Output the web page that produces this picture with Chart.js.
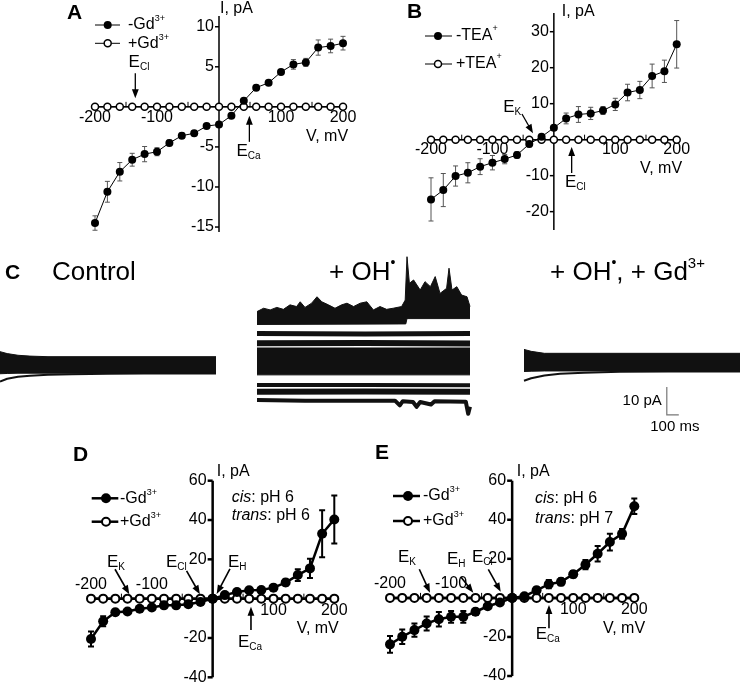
<!DOCTYPE html>
<html>
<head>
<meta charset="utf-8">
<script src="https://cdn.jsdelivr.net/npm/chart.js@4.4.0/dist/chart.umd.min.js"></script>
<style>
  html, body { margin: 0; padding: 0; background: #fff; }
  #wrap { position: relative; width: 740px; height: 685px; overflow: hidden; }
  canvas { position: absolute; }
</style>
</head>
<body>
<div id="wrap">
  <canvas id="panelA" width="370" height="240" style="left:0;top:0"></canvas>
  <canvas id="panelB" width="370" height="240" style="left:370px;top:0"></canvas>
  <canvas id="traceControl" width="740" height="200" style="left:0;top:240px"></canvas>
  <canvas id="traceOH" width="740" height="200" style="left:0;top:240px"></canvas>
  <canvas id="traceOHGd" width="740" height="200" style="left:0;top:240px"></canvas>
  <canvas id="panelD" width="370" height="245" style="left:0;top:440px"></canvas>
  <canvas id="panelE" width="370" height="245" style="left:370px;top:440px"></canvas>
</div>
<script>
// holding potentials, mV
var voltages = [-200, -180, -160, -140, -120, -100, -80, -60, -40, -20, 0, 20, 40, 60, 80, 100, 120, 140, 160, 180, 200];

// A: -Gd3+ / +Gd3+ (pA)
var aNoGd = [-14.5, -10.6, -8.1, -6.6, -5.9, -5.6, -4.5, -3.6, -3.3, -2.4, -2.2, -1.1, 0.75, 2.4, 3.0, 4.35, 5.3, 5.55, 7.4, 7.6, 7.95];
var aNoGdErr = [0.9, 1.3, 1.15, 0.8, 0.95, 0.5, 0.35, 0.35, 0.3, 0.25, 0.25, 0.25, 0.3, 0.3, 0.3, 0.3, 0.6, 0.5, 0.95, 0.85, 0.85];
var aGd = [0, 0, 0, 0, 0, 0, 0, 0, 0, 0, 0, 0, 0, 0, 0, 0, 0, 0, 0, 0, 0];
var aYTicks = [10, 5, -5, -10, -15];

// B: -TEA+ / +TEA+ (pA)
var bNoTea = [-16.6, -14.0, -10.1, -9.2, -7.5, -6.4, -5.4, -4.25, -1.2, 0.8, 3.3, 5.9, 7.0, 7.3, 8.1, 9.8, 13.1, 13.8, 17.7, 19.0, 26.5];
var bNoTeaErr = [6.0, 4.6, 2.8, 2.8, 2.2, 2.0, 1.3, 0.9, 0.8, 0.5, 0.6, 1.5, 2.2, 1.7, 1.1, 1.7, 2.3, 2.4, 3.3, 3.1, 6.6];
var bTea = [0, 0, 0, 0, 0, 0, 0, 0, 0, 0, 0, 0, 0, 0, 0, 0, 0, 0, 0, 0, 0];
var bYTicks = [30, 20, 10, -10, -20];

// D: cis pH 6 / trans pH 6
var dNoGd = [-20.5, -11.5, -6.9, -6.5, -5.1, -4.5, -3.4, -3.4, -2.8, -1.7, 0, 1.8, 3.4, 4.3, 4.4, 5.6, 8.2, 12.0, 15.4, 33.0, 40.3];
var dNoGdErr = [3.8, 2.5, 1.2, 1.0, 1.0, 0.8, 0.8, 0.8, 0.8, 0.6, 0.5, 0.6, 0.8, 0.8, 0.8, 1.0, 1.5, 3.0, 4.9, 12.0, 12.2];
var dGd = [0, 0, 0, 0, 0, 0, 0, 0, 0, 0, 0, 0, 0, 0, 0, 0, 0, 0, 0, 0, 0];

// E: cis pH 6 / trans pH 7
var eNoGd = [-23.8, -19.9, -16.5, -13.1, -10.9, -9.7, -9.7, -7.1, -4.3, -2.4, 0, 0.85, 3.9, 7.0, 8.2, 12.1, 17.0, 22.6, 28.6, 32.8, 46.9];
var eNoGdErr = [4.3, 3.7, 3.4, 3.6, 3.7, 3.0, 3.0, 1.5, 1.2, 1.0, 0.5, 0.8, 1.5, 2.1, 1.7, 1.7, 2.4, 4.0, 4.3, 2.5, 4.0];
var eGd = [0, 0, 0, 0, 0, 0, 0, 0, 0, 0, 0, 0, 0, 0, 0, 0, 0, 0, 0, 0, 0];
var deYTicks = [60, 40, 20, -20, -40];

var xTickLabels = [-200, -100, 100, 200];
var xMinorTicks = [-150, -50, 50, 150];

// C: current traces (time ms, current pA)
var ctrlTime = [0, 60, 150, 250, 400, 600, 900, 1200, 1500, 1800];
var ctrlTop = [3.7, 3.0, 2.4, 2.1, 1.9, 1.9, 1.9, 1.9, 1.9, 1.9];
var ctrlBottom = [-4.2, -4.1, -4.0, -4.0, -4.0, -4.0, -4.0, -4.0, -4.0, -4.0];
var ctrlLowest = [-7.0, -6.0, -5.3, -4.9, -4.6, -4.4, -4.2, -4.1, -4.1, -4.1];

var ohTime = [0, 55, 110, 165, 220, 275, 330, 360, 400, 455, 500, 540, 595, 650, 705, 750, 805, 860, 915, 970, 1025, 1080, 1135, 1205, 1235, 1250, 1270, 1305, 1360, 1400, 1445, 1485, 1525, 1580, 1600, 1625, 1665, 1705, 1750, 1775];
var ohTop = [18.0, 19.2, 18.6, 19.5, 18.8, 20.4, 19.8, 21.5, 19.5, 21.0, 23.3, 21.5, 20.4, 19.2, 20.4, 21.0, 19.8, 21.0, 21.5, 18.6, 19.8, 18.8, 19.2, 19.8, 22.1, 37.6, 28.1, 29.3, 25.7, 28.7, 26.9, 30.5, 24.5, 26.3, 33.5, 25.7, 26.9, 23.9, 23.3, 19.8];
var ohTopBaseTime = [0, 1240, 1250, 1775];
var ohTopBase = [13.4, 13.6, 15.5, 15.5];
var ohFlatTime = [0, 900, 1775];
var ohLine1 = [10.2, 10.0, 10.2];
var ohLine2 = [6.7, 6.8, 6.6];
var ohDenseTop = [5.0, 5.0, 5.0];
var ohDenseBottom = [-4.6, -4.6, -4.6];
var ohLine3 = [-8.2, -8.2, -8.3];
var ohLine4 = [-10.6, -10.5, -10.6];
var ohLine5Time = [0, 400, 1150, 1190, 1215, 1300, 1330, 1360, 1450, 1480, 1740, 1760, 1775];
var ohLine5 = [-13.6, -13.8, -13.8, -15.5, -14.0, -14.3, -16.0, -14.3, -15.2, -14.0, -14.2, -18.5, -16.0];

var gdTime = [0, 60, 170, 300, 500, 800, 1200, 1800];
var gdTop = [4.5, 3.8, 3.1, 3.1, 3.1, 3.1, 3.1, 3.1];
var gdBottom = [-3.4, -3.3, -3.2, -3.2, -3.2, -3.2, -3.2, -3.2];
var gdLowest = [-6.7, -5.8, -4.8, -4.2, -3.8, -3.5, -3.4, -3.4];

var FONT = '"Liberation Sans", Arial, Helvetica, sans-serif';
function font(size, style) { return (style || '') + ' ' + size + 'px ' + FONT; }

// parts: [text, size, dy, style]
function richText(ctx, parts, x, y, align) {
    ctx.textBaseline = 'middle';
    ctx.textAlign = 'left';
    var w = 0;
    parts.forEach(function (p) { ctx.font = font(p[1], p[3]); w += ctx.measureText(p[0]).width; });
    var cx = align === 'right' ? x - w : (align === 'center' ? x - w / 2 : x);
    parts.forEach(function (p) {
        ctx.font = font(p[1], p[3]);
        ctx.fillText(p[0], cx, y + (p[2] || 0));
        cx += ctx.measureText(p[0]).width;
    });
}

function arrow(ctx, x1, y1, x2, y2, lw, head) {
    var a = Math.atan2(y2 - y1, x2 - x1), c = Math.cos(a), s = Math.sin(a);
    ctx.lineWidth = lw;
    ctx.beginPath();
    ctx.moveTo(x1, y1);
    ctx.lineTo(x2 - c * head * 0.8, y2 - s * head * 0.8);
    ctx.stroke();
    ctx.beginPath();
    ctx.moveTo(x2, y2);
    ctx.lineTo(x2 - head * c + head * 0.38 * s, y2 - head * s - head * 0.38 * c);
    ctx.lineTo(x2 - head * c - head * 0.38 * s, y2 - head * s + head * 0.38 * c);
    ctx.closePath();
    ctx.fill();
}

function ivDeco(p, st) {
    return {
        id: 'ivDeco',
        beforeDatasetsDraw: function (chart) {
            var ctx = chart.ctx, xs = chart.scales.x, ys = chart.scales.y, area = chart.chartArea;
            var x0 = xs.getPixelForValue(0), y0 = ys.getPixelForValue(0);
            ctx.save();
            ctx.strokeStyle = '#000';
            ctx.fillStyle = '#000';
            ctx.lineWidth = st.axis;
            ctx.beginPath();
            ctx.moveTo(x0, area.top); ctx.lineTo(x0, area.bottom);
            ctx.moveTo(area.left, y0); ctx.lineTo(area.right, y0);
            ctx.stroke();

            p.yTicks.forEach(function (v) {
                var y = ys.getPixelForValue(v);
                ctx.beginPath(); ctx.moveTo(x0 - st.tick, y); ctx.lineTo(x0, y); ctx.stroke();
                richText(ctx, [[String(v), 16]], x0 - st.tick - 1, y, 'right');
            });
            ctx.lineWidth = 1;
            xMinorTicks.forEach(function (v) {
                var x = xs.getPixelForValue(v);
                ctx.beginPath(); ctx.moveTo(x, y0 - 5); ctx.lineTo(x, y0); ctx.stroke();
            });
            xTickLabels.forEach(function (v) {
                var dy = v < 0 ? p.xLabelDy[0] : p.xLabelDy[1];
                richText(ctx, [[String(v), 16]], xs.getPixelForValue(v), y0 + dy, 'center');
            });

            // error bars
            ctx.strokeStyle = st.errColor;
            ctx.lineWidth = st.errWidth;
            voltages.forEach(function (v, i) {
                var x = xs.getPixelForValue(v);
                var yt = ys.getPixelForValue(p.minus[i] + p.err[i]);
                var yb = ys.getPixelForValue(p.minus[i] - p.err[i]);
                ctx.beginPath();
                ctx.moveTo(x, yt); ctx.lineTo(x, yb);
                ctx.moveTo(x - st.cap, yt); ctx.lineTo(x + st.cap, yt);
                ctx.moveTo(x - st.cap, yb); ctx.lineTo(x + st.cap, yb);
                ctx.stroke();
            });
            ctx.restore();
        },
        afterDatasetsDraw: function (chart) {
            var ctx = chart.ctx, xs = chart.scales.x, ys = chart.scales.y;
            var y0 = ys.getPixelForValue(0);
            ctx.save();
            ctx.fillStyle = '#000';
            ctx.strokeStyle = '#000';

            richText(ctx, [[p.letter[0], 21, 0, 'bold']], p.letter[1], p.letter[2]);

            // legend
            var lg = p.legend;
            lg.rows.forEach(function (ry, k) {
                ctx.lineWidth = st.lw;
                ctx.beginPath(); ctx.moveTo(lg.x1, ry); ctx.lineTo(lg.x2, ry); ctx.stroke();
                ctx.beginPath();
                if (k === 0) {
                    ctx.arc(lg.mx, ry, st.r, 0, Math.PI * 2); ctx.fill();
                } else {
                    ctx.arc(lg.mx, ry, st.ro, 0, Math.PI * 2);
                    ctx.fillStyle = '#fff'; ctx.fill();
                    ctx.lineWidth = st.bw; ctx.stroke();
                    ctx.fillStyle = '#000';
                }
                richText(ctx, lg.labels[k], lg.tx, ry);
            });

            p.texts.forEach(function (t) { richText(ctx, t[0], t[1], t[2]); });

            // reversal potential arrows
            p.arrows.forEach(function (a) {
                var tx = xs.getPixelForValue(a.v), ty = y0 + a.dy;
                arrow(ctx, tx + a.tail[0], ty + a.tail[1], tx, ty, st.arrowW, 9);
                richText(ctx, [['E', 17], [a.sub, 10, 5]], tx + a.lx, ty + a.ly);
            });
            ctx.restore();
        }
    };
}

function points(xv, yv) {
    return xv.map(function (x, i) { return {x: x, y: yv[i]}; });
}

function ivChart(id, p) {
    var st = p.thick
        ? {lw: 2.5, axis: 2.5, r: 5, ro: 4, bw: 2, tick: 5, errColor: '#000', errWidth: 2, cap: 3, arrowW: 1.6}
        : {lw: 1, axis: 1.5, r: 4, ro: 3.5, bw: 1.5, tick: 4, errColor: '#555', errWidth: 1, cap: 2.5, arrowW: 1.3};
    return new Chart(document.getElementById(id), {
        type: 'line',
        data: {
            datasets: [{
                data: points(voltages, p.minus),
                borderColor: '#000',
                borderWidth: st.lw,
                pointRadius: st.r,
                pointBackgroundColor: '#000',
                pointBorderWidth: 0,
                tension: 0,
                clip: false,
                order: 0
            }, {
                data: points(voltages, p.plus),
                borderColor: '#000',
                borderWidth: st.lw,
                pointRadius: st.ro,
                pointBackgroundColor: '#fff',
                pointBorderColor: '#000',
                pointBorderWidth: st.bw,
                tension: 0,
                clip: false,
                order: 1
            }]
        },
        options: {
            responsive: false,
            animation: false,
            events: [],
            layout: {padding: p.pad},
            scales: {
                x: {type: 'linear', min: -200, max: 200, display: false},
                y: {type: 'linear', min: p.yMin, max: p.yMax, display: false}
            },
            plugins: {legend: {display: false}, tooltip: {enabled: false}}
        },
        plugins: [ivDeco(p, st)]
    });
}

var gdLabels = [[['-Gd', 16], ['3+', 9, -6]], [['+Gd', 16], ['3+', 9, -6]]];

ivChart('panelA', {
    minus: aNoGd, err: aNoGdErr, plus: aGd, yTicks: aYTicks,
    yMin: -15.62, yMax: 11.34,
    pad: {left: 95, right: 27, top: 16, bottom: 8},
    xLabelDy: [11, 11],
    letter: ['A', 67, 13],
    legend: {x1: 95, x2: 120, mx: 107.7, tx: 128, rows: [25, 43.3], labels: gdLabels},
    texts: [[[['I, pA', 16]], 220, 9], [[['V, mV', 16]], 306, 136.7]],
    arrows: [
        {v: -135, dy: -8.7, tail: [0, -25], lx: -6.7, ly: -35.5, sub: 'Cl'},
        {v: 49, dy: 9, tail: [0, 26], lx: -13, ly: 35, sub: 'Ca'}
    ]
});

ivChart('panelB', {
    minus: bNoTea, err: bNoTeaErr, plus: bTea, yTicks: bYTicks,
    yMin: -25.1, yMax: 35.2,
    pad: {left: 61, right: 63.3, top: 13, bottom: 10},
    xLabelDy: [10, 10],
    letter: ['B', 37, 12],
    legend: {x1: 55, x2: 82, mx: 68, tx: 86, rows: [36, 64],
        labels: [[['-TEA', 16], ['+', 9, -7]], [['+TEA', 16], ['+', 9, -7]]]},
    texts: [[[['I, pA', 16]], 191.7, 12], [[['V, mV', 16]], 270, 168.3]],
    arrows: [
        {v: -34, dy: -6.4, tail: [-11, -19.3], lx: -29.7, ly: -25.8, sub: 'K'},
        {v: 29, dy: 7.3, tail: [0, 26], lx: -6.7, ly: 35.5, sub: 'Cl'}
    ]
});

ivChart('panelD', {
    thick: true,
    minus: dNoGd, err: dNoGdErr, plus: dGd, yTicks: deYTicks,
    yMin: -40, yMax: 60,
    pad: {left: 91, right: 35.7, top: 40.7, bottom: 7.7},
    xLabelDy: [-14, 12],
    letter: ['D', 73, 15.5],
    legend: {x1: 91.7, x2: 118.3, mx: 106, tx: 120, rows: [58.3, 81.7], labels: gdLabels},
    texts: [
        [[['I, pA', 16]], 216.7, 31.7],
        [[['V, mV', 16]], 296.7, 188.3],
        [[['cis', 16, 0, 'italic'], [': pH 6', 16]], 231.7, 57.7],
        [[['trans', 16, 0, 'italic'], [': pH 6', 16]], 231.7, 76]
    ],
    arrows: [
        {v: -137, dy: -4.4, tail: [-14.3, -25], lx: -22.3, ly: -31.8, sub: 'K'},
        {v: -21, dy: -4.4, tail: [-13.3, -23.3], lx: -34, ly: -31.8, sub: 'Cl'},
        {v: 6.6, dy: -4.7, tail: [13.3, -25], lx: 11.3, ly: -31.5, sub: 'H'},
        {v: 63, dy: 8, tail: [0, 23.3], lx: -13, ly: 35.8, sub: 'Ca'}
    ]
});

ivChart('panelE', {
    thick: true,
    minus: eNoGd, err: eNoGdErr, plus: eGd, yTicks: deYTicks,
    yMin: -40, yMax: 60,
    pad: {left: 20, right: 105.7, top: 40.7, bottom: 9},
    xLabelDy: [-14, 12],
    letter: ['E', 5, 13.5],
    legend: {x1: 23, x2: 50, mx: 38, tx: 53, rows: [56, 81], labels: gdLabels},
    texts: [
        [[['I, pA', 16]], 146.7, 31.7],
        [[['V, mV', 16]], 233, 188.3],
        [[['cis', 16, 0, 'italic'], [': pH 6', 16]], 165, 58.3],
        [[['trans', 16, 0, 'italic'], [': pH 7', 16]], 165, 78.3]
    ],
    arrows: [
        {v: -134.5, dy: -5.2, tail: [-10.7, -23.4], lx: -32, ly: -35.2, sub: 'K'},
        {v: -63.6, dy: -5.2, tail: [-12.6, -16], lx: -26.3, ly: -33.7, sub: 'H'},
        {v: -18.7, dy: -6.2, tail: [-12.4, -22.4], lx: -28.7, ly: -34.2, sub: 'Cl'},
        {v: 60.3, dy: 7.1, tail: [0, 23.3], lx: -13.3, ly: 29, sub: 'Ca'}
    ]
});

// ---- C: raw traces ----
function trace(t, y, w) {
    return {data: points(t, y), borderColor: '#111', borderWidth: w, borderJoinStyle: 'round', pointRadius: 0, tension: 0, fill: false, clip: false};
}
function bandTo(t, y) {
    return {data: points(t, y), borderColor: '#111', borderWidth: 1, pointRadius: 0, tension: 0, fill: '-1', backgroundColor: '#111', clip: false};
}

function textDeco(draw) {
    return {
        id: 'textDeco',
        afterDatasetsDraw: function (chart) {
            var ctx = chart.ctx;
            ctx.save();
            ctx.fillStyle = '#000';
            ctx.strokeStyle = '#000';
            draw(ctx, chart);
            ctx.restore();
        }
    };
}

function traceChart(id, pad, datasets, deco) {
    return new Chart(document.getElementById(id), {
        type: 'line',
        data: {datasets: datasets},
        options: {
            responsive: false,
            animation: false,
            events: [],
            layout: {padding: pad},
            scales: {
                x: {type: 'linear', min: 0, max: 1800, display: false},
                y: {type: 'linear', min: -27.86, max: 43.57, display: false}
            },
            plugins: {legend: {display: false}, tooltip: {enabled: false}}
        },
        plugins: [deco]
    });
}

var TITLE = 26;

traceChart('traceControl', {left: 0, right: 524, top: 0, bottom: 0}, [
    trace(ctrlTime, ctrlTop, 1),
    bandTo(ctrlTime, ctrlBottom),
    trace(ctrlTime, ctrlLowest, 2)
], textDeco(function (ctx) {
    richText(ctx, [['C', 21, 0, 'bold']], 5, 33);
    richText(ctx, [['Control', TITLE]], 52, 33);
}));

traceChart('traceOH', {left: 257, right: 267, top: 0, bottom: 0}, [
    trace(ohTime, ohTop, 1),
    bandTo(ohTopBaseTime, ohTopBase),
    trace(ohFlatTime, ohLine1, 5),
    trace(ohFlatTime, ohLine2, 6),
    trace(ohFlatTime, ohDenseTop, 1),
    bandTo(ohFlatTime, ohDenseBottom),
    trace(ohFlatTime, ohLine3, 4),
    trace(ohFlatTime, ohLine4, 6),
    trace(ohLine5Time, ohLine5, 4)
], textDeco(function (ctx) {
    richText(ctx, [['+ OH', TITLE], ['•', 14, -10]], 329, 33);
}));

traceChart('traceOHGd', {left: 524, right: 0, top: 0, bottom: 0}, [
    trace(gdTime, gdTop, 1),
    bandTo(gdTime, gdBottom),
    trace(gdTime, gdLowest, 2)
], textDeco(function (ctx, chart) {
    richText(ctx, [['+ OH', TITLE], ['•', 14, -10], [', + Gd', TITLE], ['3+', 15, -9]], 550, 33);
    // scale bar: 10 pA, 100 ms
    var xs = chart.scales.x, ys = chart.scales.y;
    var bx = xs.getPixelForValue(1190), by = ys.getPixelForValue(-18.9);
    ctx.strokeStyle = '#777';
    ctx.lineWidth = 1.2;
    ctx.beginPath();
    ctx.moveTo(bx, ys.getPixelForValue(-8.9));
    ctx.lineTo(bx, by);
    ctx.lineTo(xs.getPixelForValue(1290), by);
    ctx.stroke();
    richText(ctx, [['10 pA', 15]], bx - 5, 161, 'right');
    richText(ctx, [['100 ms', 15]], bx + 8, 187, 'center');
}));
</script>
</body>
</html>
